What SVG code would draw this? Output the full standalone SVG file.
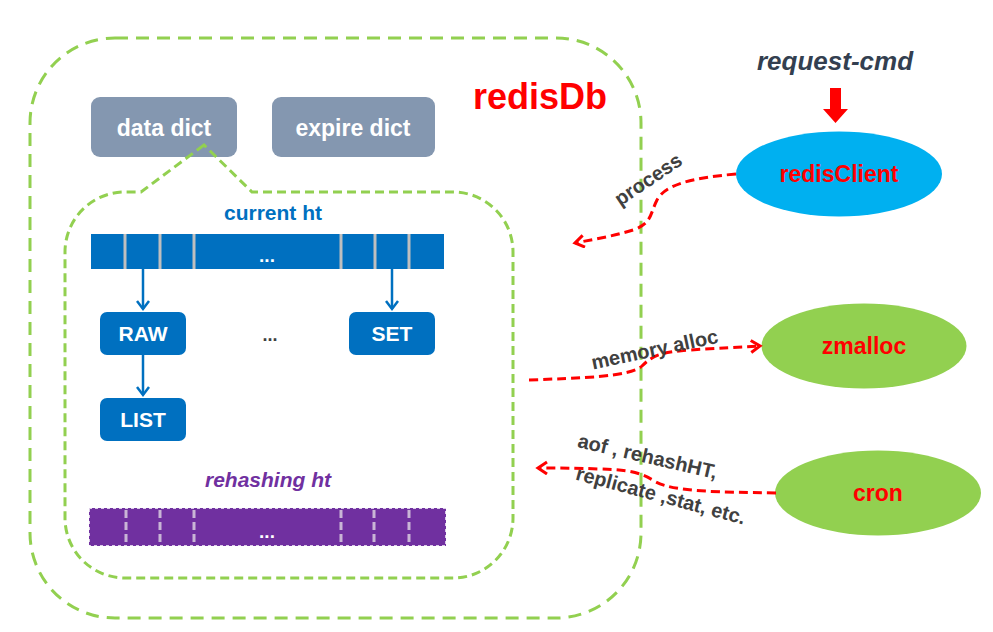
<svg xmlns="http://www.w3.org/2000/svg" width="993" height="632" viewBox="0 0 993 632">
<style>
  text { font-family: "Liberation Sans", Arial, sans-serif; font-weight: bold; }
  .gbox { fill: #8497B0; }
  .bbox { fill: #0070C0; }
  .wt { fill: #FFFFFF; text-anchor: middle; }
  .lbl { fill: #404040; text-anchor: middle; font-size: 20px; }
  .red { fill: #FF0000; text-anchor: middle; }
  .outer { fill: none; stroke: #92D050; stroke-width: 3; stroke-dasharray: 13 8; }
  .inner { fill: none; stroke: #92D050; stroke-width: 3; stroke-dasharray: 9 5; }
  .sep { stroke: #BFBFBF; stroke-width: 3; }
  .psep { stroke: #C9B5D6; stroke-width: 3; stroke-dasharray: 8 4; }
  .conn { fill: none; stroke: #FF0000; stroke-width: 3; stroke-dasharray: 9 5; }
  .barrow { fill: none; stroke: #0070C0; stroke-width: 2.5; }
</style>
<defs>
  <marker id="rh" markerUnits="userSpaceOnUse" markerWidth="16" markerHeight="16" refX="11" refY="7" orient="auto">
    <path d="M2,1 L11,7 L2,13" fill="none" stroke="#FF0000" stroke-width="3" stroke-linejoin="miter"/>
  </marker>
  <marker id="bh" markerUnits="userSpaceOnUse" markerWidth="16" markerHeight="16" refX="10" refY="7" orient="auto">
    <path d="M2,1 L10,7 L2,13" fill="none" stroke="#0070C0" stroke-width="2.5"/>
  </marker>
</defs>

<g id="redisDb">
  <rect class="outer" x="30" y="38" width="611" height="580" rx="85" ry="85"/>
  <text x="540" y="109" class="red" font-size="36">redisDb</text>
</g>

<g id="data-dict">
  <rect class="gbox" x="91" y="97" width="146" height="60" rx="9"/>
  <text x="164" y="136" class="wt" font-size="23">data dict</text>
</g>
<g id="expire-dict">
  <rect class="gbox" x="272" y="97" width="163" height="60" rx="9"/>
  <text x="353" y="136" class="wt" font-size="23">expire dict</text>
</g>

<g id="dict-region">
  <path class="inner" d="M204,145 L141,192 L125,192 A60,60 0 0 0 65,252 L65,518 A60,60 0 0 0 125,578 L453,578 A60,60 0 0 0 513,518 L513,252 A60,60 0 0 0 453,192 L252,192 Z"/>
</g>

<g id="current-ht">
  <text x="273" y="220" fill="#0070C0" text-anchor="middle" font-size="21">current ht</text>
  <rect class="bbox" x="91" y="234" width="353" height="35"/>
  <line class="sep" x1="125" y1="234" x2="125" y2="269"/>
  <line class="sep" x1="160" y1="234" x2="160" y2="269"/>
  <line class="sep" x1="194" y1="234" x2="194" y2="269"/>
  <line class="sep" x1="341" y1="234" x2="341" y2="269"/>
  <line class="sep" x1="375" y1="234" x2="375" y2="269"/>
  <line class="sep" x1="409" y1="234" x2="409" y2="269"/>
  <text x="267" y="262" class="wt" font-size="19">...</text>
</g>

<g id="RAW">
  <rect class="bbox" x="100" y="312" width="86" height="43" rx="7"/>
  <text x="143" y="341" class="wt" font-size="21">RAW</text>
</g>
<g id="SET">
  <rect class="bbox" x="349" y="312" width="86" height="43" rx="7"/>
  <text x="392" y="341" class="wt" font-size="21">SET</text>
</g>
<g id="LIST">
  <rect class="bbox" x="100" y="398" width="86" height="43" rx="7"/>
  <text x="143" y="427" class="wt" font-size="21">LIST</text>
</g>
<g id="ellipsis">
  <text x="270" y="341" fill="#404040" text-anchor="middle" font-size="18">...</text>
</g>

<g id="rehashing-ht">
  <text x="268" y="487" fill="#7030A0" text-anchor="middle" font-size="21" font-style="italic">rehashing ht</text>
  <rect x="89" y="508" width="357" height="38" fill="#7030A0" stroke="#FFFFFF" stroke-width="1.5" stroke-dasharray="3 3"/>
  <line class="psep" x1="126" y1="510" x2="126" y2="544"/>
  <line class="psep" x1="160" y1="510" x2="160" y2="544"/>
  <line class="psep" x1="194" y1="510" x2="194" y2="544"/>
  <line class="psep" x1="341" y1="510" x2="341" y2="544"/>
  <line class="psep" x1="374" y1="510" x2="374" y2="544"/>
  <line class="psep" x1="409" y1="510" x2="409" y2="544"/>
  <text x="267" y="538" class="wt" font-size="19">...</text>
</g>

<g id="request-cmd">
  <text x="835" y="70" fill="#333F50" text-anchor="middle" font-size="26" font-style="italic">request-cmd</text>
  <polygon points="830,88 841,88 841,109 848,109 835.5,123 823,109 830,109" fill="#FF0000"/>
</g>

<g id="redisClient">
  <ellipse cx="839" cy="174" rx="103" ry="42.5" fill="#00B0F0"/>
  <text x="839" y="182" class="red" font-size="23">redisClient</text>
</g>
<g id="zmalloc">
  <ellipse cx="864" cy="346" rx="102.5" ry="42.5" fill="#92D050"/>
  <text x="864" y="354" class="red" font-size="23">zmalloc</text>
</g>
<g id="cron">
  <ellipse cx="878" cy="493" rx="103" ry="42.5" fill="#92D050"/>
  <text x="878" y="501" class="red" font-size="23">cron</text>
</g>

<g id="connectors">
  <path class="barrow" d="M143,269 L143,309" marker-end="url(#bh)"/>
  <path class="barrow" d="M392,269 L392,309" marker-end="url(#bh)"/>
  <path class="barrow" d="M143,355 L143,395" marker-end="url(#bh)"/>
  <path class="conn" d="M736,174 C690,178 665,185 657,200 C650,214 652,222 636,229 C615,236 595,239 575,243" marker-end="url(#rh)"/>
  <path class="conn" d="M529,380 C580,378 630,377 642,366 C652,356 660,352 690,350 C720,348 740,347 760,346" marker-end="url(#rh)"/>
  <path class="conn" d="M776,493 C720,492 675,492 656,482 C640,472 630,470 600,469 C575,468 555,468 538,468" marker-end="url(#rh)"/>
  <text class="lbl" transform="translate(652,185) rotate(-34)">process</text>
  <text class="lbl" transform="translate(656,356) rotate(-12)">memory alloc</text>
  <text class="lbl" transform="translate(646,463) rotate(13)">aof , rehashHT,</text>
  <text class="lbl" transform="translate(659,502) rotate(15)">replicate ,stat, etc.</text>
</g>
</svg>
